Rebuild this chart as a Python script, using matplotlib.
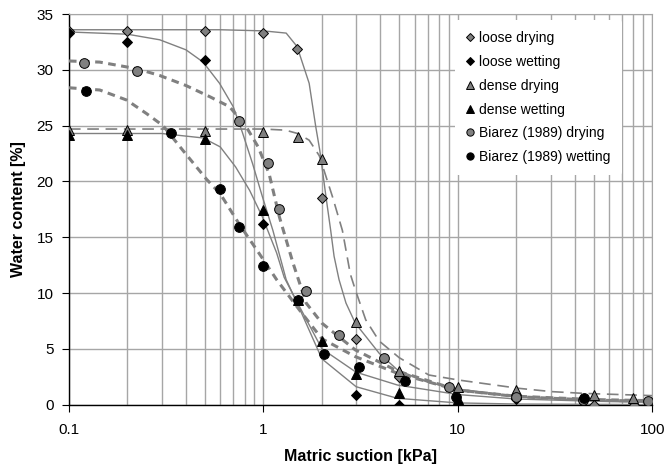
import matplotlib
matplotlib.use("Agg")
import matplotlib.pyplot as plt
from matplotlib.ticker import LogLocator, NullFormatter, FixedLocator

plt.rcParams['font.family'] = ['Liberation Sans', 'DejaVu Sans']

# measured points (suction kPa, water content %)
loose_dry_x = [0.1, 0.2, 0.5, 1.0, 1.49, 2.01, 3.01, 5.0, 20, 50, 81]
loose_dry_y = [33.5, 33.5, 33.5, 33.3, 31.9, 18.5, 5.9, 2.5, 0.6, 0.0, 0.0]

loose_wet_x = [0.1, 0.2, 0.5, 1.0, 3.0, 5.0, 10, 20]
loose_wet_y = [33.3, 32.5, 30.9, 16.2, 0.9, 0.0, 0.0, 0.5]

dense_dry_x = [0.1, 0.2, 0.5, 1.0, 1.5, 2.0, 3.0, 5.0, 10, 20, 50, 80]
dense_dry_y = [24.6, 24.6, 24.5, 24.4, 24.0, 22.0, 7.4, 3.0, 1.6, 1.3, 0.9, 0.55]

dense_wet_x = [0.1, 0.2, 0.5, 1.0, 1.5, 2.0, 3.0, 5.0, 10]
dense_wet_y = [24.2, 24.2, 23.8, 17.4, 9.4, 5.7, 2.7, 1.0, 0.5]

biarez_dry_x = [0.12, 0.224, 0.753, 1.06, 1.2, 1.66, 2.45, 4.17, 9.06, 20, 44, 94.6]
biarez_dry_y = [30.6, 29.9, 25.4, 21.7, 17.5, 10.2, 6.2, 4.2, 1.6, 0.7, 0.4, 0.3]

biarez_wet_x = [0.122, 0.336, 0.6, 0.753, 1.0, 1.5, 2.06, 3.1, 5.35, 9.8, 44.3]
biarez_wet_y = [28.1, 24.3, 19.3, 15.9, 12.45, 9.4, 4.5, 3.4, 2.1, 0.7, 0.6]

# fitted retention curves
fit_loose_dry_x = [0.1, 0.3, 0.6, 1.0, 1.31, 1.49, 1.72, 1.86, 1.95, 2.1, 2.22, 2.31,
                   2.45, 2.66, 2.97, 3.94, 4.9, 7.0, 10, 20, 50, 100]
fit_loose_dry_y = [33.6, 33.6, 33.6, 33.5, 33.3, 32.1, 28.8, 24.9, 22.8, 18.6, 15.6, 13.3,
                   11.2, 9.1, 7.3, 4.6, 3.1, 2.0, 1.4, 0.7, 0.35, 0.25]

fit_dense_dry_x = [0.1, 0.5, 1.0, 1.3, 1.5, 1.72, 1.94, 2.27, 2.55, 2.8, 2.97, 3.36,
                   3.94, 5.0, 7.1, 10.1, 20.5, 30.5, 45, 80, 100]
fit_dense_dry_y = [24.7, 24.7, 24.7, 24.6, 24.3, 23.7, 22.3, 18.6, 15.6, 11.7, 10.3, 7.6,
                   5.7, 4.2, 2.65, 2.2, 1.46, 1.16, 1.0, 0.86, 0.8]

fit_loose_wet_x = [0.1, 0.2, 0.293, 0.4, 0.49, 0.595, 0.70, 0.78, 0.88, 0.99, 1.12,
                   1.31, 1.5, 2.0, 3.0, 4.9, 10, 20, 100]
fit_loose_wet_y = [33.4, 33.2, 32.7, 31.8, 30.7, 28.8, 26.7, 24.4, 21.6, 18.6, 15.6,
                   11.2, 9.0, 4.1, 1.6, 0.56, 0.15, 0.05, 0.0]

fit_dense_wet_x = [0.1, 0.2, 0.3, 0.49, 0.6, 0.72, 0.85, 0.99, 1.17, 1.28, 1.5, 2.0,
                   3.0, 4.9, 10, 20, 50, 100]
fit_dense_wet_y = [24.3, 24.3, 24.3, 23.9, 23.1, 21.3, 19.2, 16.8, 13.6, 11.4, 9.1, 5.0,
                   2.9, 1.75, 0.9, 0.5, 0.3, 0.2]

fit_biarez_dry_x = [0.1, 0.144, 0.224, 0.293, 0.4, 0.53, 0.67, 0.81, 0.94, 1.07, 1.21,
                    1.42, 1.66, 2.0, 2.97, 4.9, 10, 20.5, 50, 100]
fit_biarez_dry_y = [30.8, 30.7, 30.1, 29.5, 28.6, 27.6, 26.7, 25.0, 23.1, 20.7, 16.8,
                    12.7, 9.1, 7.3, 4.9, 3.0, 1.3, 0.7, 0.4, 0.3]

fit_biarez_wet_x = [0.1, 0.144, 0.198, 0.25, 0.305, 0.385, 0.51, 0.6, 0.75, 0.99, 1.17,
                    1.53, 2.0, 2.97, 4.9, 10, 20, 50, 100]
fit_biarez_wet_y = [28.4, 28.2, 27.3, 26.1, 25.0, 22.8, 20.2, 18.9, 16.2, 13.1, 11.2,
                    8.5, 5.9, 4.3, 2.8, 1.3, 0.75, 0.45, 0.35]

GREY = '#808080'
GRID = '#a6a6a6'

fig = plt.figure(figsize=(6.69, 4.71), dpi=100)
ax = fig.add_axes([0.103, 0.141, 0.872, 0.829])
ax.set_xscale('log')

# fitted curves
ax.plot(fit_loose_dry_x, fit_loose_dry_y, color=GREY, lw=1.0, zorder=3)
ax.plot(fit_loose_wet_x, fit_loose_wet_y, color=GREY, lw=1.0, zorder=3)
ax.plot(fit_dense_wet_x, fit_dense_wet_y, color=GREY, lw=1.0, zorder=3)
ax.plot(fit_dense_dry_x, fit_dense_dry_y, color=GREY, lw=1.2, ls=(0, (7, 4)), zorder=3)
ax.plot(fit_biarez_dry_x, fit_biarez_dry_y, color=GREY, lw=2.2, ls=(0, (2.5, 1.8)), zorder=3)
ax.plot(fit_biarez_wet_x, fit_biarez_wet_y, color=GREY, lw=2.2, ls=(0, (2.5, 1.8)), zorder=3)

# measured points
mk = dict(ls='none', markeredgecolor='black', markeredgewidth=0.7, zorder=4)
ax.plot(loose_dry_x, loose_dry_y, marker='D', ms=5.2, mfc=GREY, label='loose drying', **mk)
ax.plot(loose_wet_x, loose_wet_y, marker='D', ms=5.2, mfc='black', label='loose wetting', **mk)
ax.plot(dense_dry_x, dense_dry_y, marker='^', ms=7, mfc=GREY, label='dense drying', **mk)
ax.plot(dense_wet_x, dense_wet_y, marker='^', ms=7, mfc='black', label='dense wetting', **mk)
ax.plot(biarez_dry_x, biarez_dry_y, marker='o', ms=7, mfc=GREY, label='Biarez (1989) drying', **mk)
ax.plot(biarez_wet_x, biarez_wet_y, marker='o', ms=7, mfc='black', label='Biarez (1989) wetting', **mk)

ax.set_xlim(0.1, 100)
ax.set_ylim(0, 35)
ax.set_yticks(range(0, 36, 5))
ax.xaxis.set_major_locator(FixedLocator([0.1, 1, 10, 100]))
ax.set_xticklabels(['0.1', '1', '10', '100'])
ax.xaxis.set_minor_locator(LogLocator(base=10, subs=range(2, 10)))
ax.xaxis.set_minor_formatter(NullFormatter())
ax.grid(True, which='both', axis='x', color=GRID, lw=1.0)
ax.grid(True, which='major', axis='y', color=GRID, lw=1.0)
ax.set_axisbelow(True)
ax.tick_params(axis='both', which='major', direction='out', length=5, width=0.8,
               labelsize=11, colors='black')
ax.tick_params(axis='x', which='major', pad=8)
ax.tick_params(axis='y', which='major', pad=6)
ax.tick_params(axis='x', which='minor', length=0)

for s in ('top', 'right'):
    ax.spines[s].set_color(GRID)
for s in ('left', 'bottom'):
    ax.spines[s].set_color('black')
    ax.spines[s].set_linewidth(1.0)

ax.set_xlabel('Matric suction [kPa]', fontsize=11.5, fontweight='bold', labelpad=9)
ax.set_ylabel('Water content [%]', fontsize=11.5, fontweight='bold', labelpad=8)

leg = ax.legend(loc='upper right', bbox_to_anchor=(0.955, 0.995), fontsize=10,
                frameon=True, facecolor='white', edgecolor='none', framealpha=1,
                markerscale=0.75, handlelength=0.6, handletextpad=0.35,
                labelspacing=0.7, borderpad=0.8, borderaxespad=0.3)
leg.get_frame().set_linewidth(0)

fig.savefig('out.png', dpi=100)
